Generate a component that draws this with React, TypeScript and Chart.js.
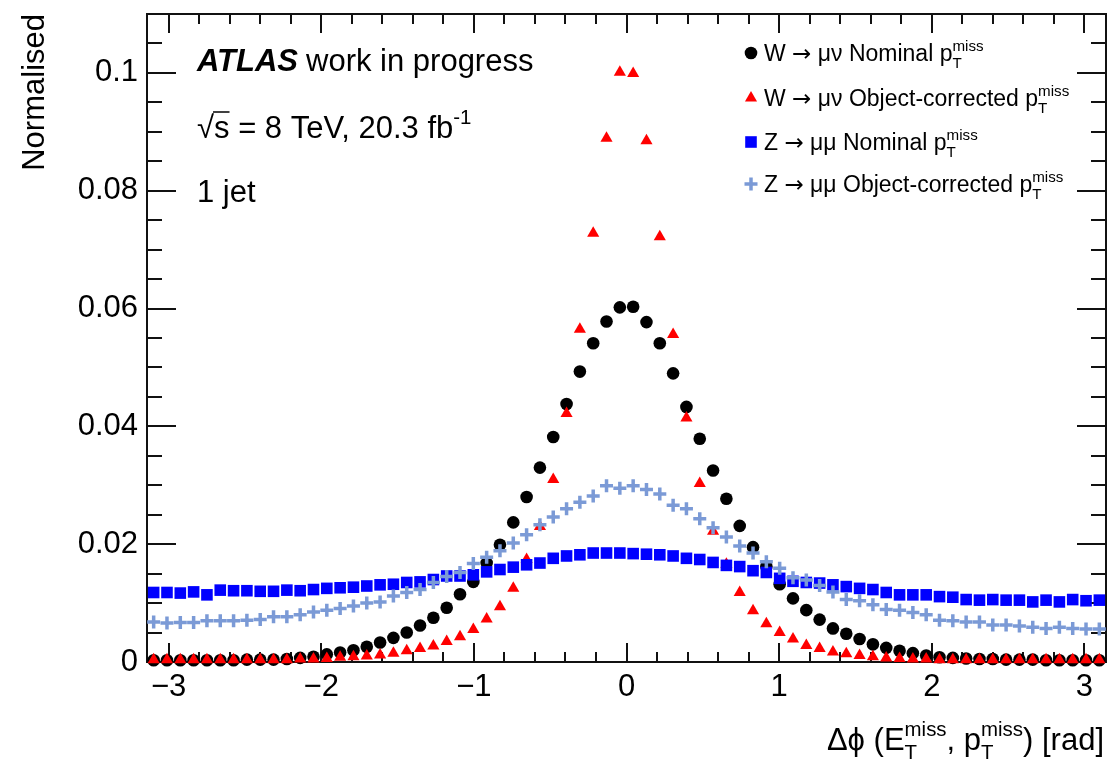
import React, { useEffect, useRef } from 'react';
import { Chart, registerables } from 'chart.js';

Chart.register(...registerables);

// ---------- data ----------
const N_BINS = 72;
const PHI_MIN = -Math.PI;
const PHI_MAX = Math.PI;
const BIN_WIDTH = (PHI_MAX - PHI_MIN) / N_BINS;
const BIN_CENTERS = Array.from({ length: N_BINS }, (_, i) => PHI_MIN + (i + 0.5) * BIN_WIDTH);

const W_NOMINAL = [
  0.0003, 0.0003, 0.0003, 0.0003, 0.0003, 0.0003, 0.0003, 0.0004, 0.0004, 0.0004,
  0.0005, 0.0007, 0.0009, 0.0013, 0.0016, 0.002, 0.0026, 0.0033, 0.0041, 0.005,
  0.0062, 0.0075, 0.0092, 0.0115, 0.0136, 0.0168, 0.0199, 0.0237, 0.028, 0.033,
  0.0382, 0.0438, 0.0493, 0.0541, 0.0578, 0.0602,
  0.0603, 0.0577, 0.0541, 0.049, 0.0433, 0.0379, 0.0325, 0.0277, 0.0231, 0.0195,
  0.0162, 0.0132, 0.0108, 0.0088, 0.0072, 0.0057, 0.0048, 0.0039, 0.003, 0.0024,
  0.0019, 0.0015, 0.0011, 0.0008, 0.0007, 0.0006, 0.0005, 0.0005, 0.0004, 0.0004,
  0.0004, 0.0003, 0.0003, 0.0003, 0.0003, 0.0003,
];

const W_CORRECTED = [
  0.0004, 0.0004, 0.0004, 0.0004, 0.0004, 0.0004, 0.0004, 0.0004, 0.0004, 0.0004,
  0.0004, 0.0005, 0.0005, 0.0006, 0.0008, 0.0009, 0.001, 0.0012, 0.0015, 0.0019,
  0.0023, 0.0027, 0.0035, 0.0043, 0.0055, 0.0073, 0.0094, 0.0125, 0.0174, 0.023,
  0.031, 0.0422, 0.0565, 0.0728, 0.0889, 0.1001,
  0.0999, 0.0885, 0.0722, 0.0556, 0.0414, 0.0303, 0.0222, 0.0166, 0.0118, 0.0087,
  0.0065, 0.005, 0.0039, 0.0028, 0.0023, 0.0017, 0.0014, 0.0011, 0.0009, 0.0007,
  0.0006, 0.0005, 0.0005, 0.0004, 0.0004, 0.0004, 0.0004, 0.0004, 0.0004, 0.0004,
  0.0004, 0.0004, 0.0004, 0.0004, 0.0004, 0.0004,
];

const Z_NOMINAL = [
  0.0118, 0.0118, 0.0117, 0.0119, 0.0114, 0.0122, 0.0121, 0.0121, 0.012, 0.012,
  0.0122, 0.0121, 0.0123, 0.0125, 0.0126, 0.0127, 0.0129, 0.0131, 0.0132, 0.0135,
  0.0136, 0.014, 0.0146, 0.0146, 0.0148, 0.0153, 0.0157, 0.0161, 0.0165, 0.0168,
  0.0176, 0.018, 0.0182, 0.0185, 0.0185, 0.0185,
  0.0184, 0.0183, 0.0182, 0.018, 0.0176, 0.0174, 0.0169, 0.0164, 0.0162, 0.0155,
  0.0152, 0.0142, 0.0137, 0.0135, 0.0134, 0.0131, 0.0128, 0.0125, 0.0123, 0.0118,
  0.0114, 0.0114, 0.0114, 0.0111, 0.011, 0.0106, 0.0105, 0.0106, 0.0105, 0.0105,
  0.0102, 0.0105, 0.0102, 0.0106, 0.0104, 0.0105,
];

const Z_CORRECTED = [
  0.0068, 0.0066, 0.0067, 0.0067, 0.007, 0.007, 0.007, 0.0071, 0.0072, 0.0077,
  0.0077, 0.008, 0.0085, 0.0088, 0.0091, 0.0095, 0.01, 0.0102, 0.0112, 0.0118,
  0.0123, 0.0135, 0.0145, 0.0152, 0.0167, 0.0178, 0.0189, 0.0202, 0.0216, 0.0233,
  0.0246, 0.026, 0.0271, 0.0282, 0.0299, 0.0295,
  0.0299, 0.0293, 0.0285, 0.0266, 0.026, 0.0243, 0.0228, 0.0212, 0.0197, 0.0185,
  0.017, 0.0159, 0.0143, 0.0139, 0.013, 0.0119, 0.0106, 0.0104, 0.0097, 0.0089,
  0.0088, 0.0084, 0.008, 0.0071, 0.007, 0.0068, 0.0068, 0.0063, 0.0063, 0.0061,
  0.0059, 0.0057, 0.0059, 0.0057, 0.0056, 0.0056,
];

const LEGEND_BOSON = ['W', 'W', 'Z', 'Z'];
const LEGEND_DECAY = ['\u03bc\u03bd', '\u03bc\u03bd', '\u03bc\u03bc', '\u03bc\u03bc'];
const LEGEND_KIND = ['Nominal', 'Object-corrected', 'Nominal', 'Object-corrected'];

const Y_MAX = 0.11;
const X_MAJOR_STEP = 1;
const X_MINOR_STEP = 0.2;
const Y_MAJOR_STEP = 0.02;
const Y_MINOR_STEP = 0.005;

// ---------- styles ----------
const FONT = "'Liberation Sans', Arial, Helvetica, sans-serif";
const ARROW_FONT = "'DejaVu Sans', sans-serif";
const BASE = 31;
const LEG = 23;
const BLACK = '#000000';
const RED = '#ff0000';
const BLUE = '#0000ff';
const LIGHT_BLUE = '#7b9ad6';
const MARKERS = [
  { style: 'circle', color: BLACK, radius: 6.3 },
  { style: 'triangle', color: RED, radius: 7 },
  { style: 'rect', color: BLUE, radius: 8.2 },
  { style: 'cross', color: LIGHT_BLUE, radius: 6.5 },
];

type Seg = { t?: string; sup?: string; sub?: string; font?: string };
const SCRIPT = 0.66;

function segWidth(ctx: CanvasRenderingContext2D, segs: Seg[], size: number) {
  let w = 0;
  for (const s of segs) {
    if (s.t !== undefined) {
      ctx.font = s.font || `${size}px ${FONT}`;
      w += ctx.measureText(s.t).width;
    } else {
      ctx.font = `${size * SCRIPT}px ${FONT}`;
      w += Math.max(ctx.measureText(s.sup || '').width, ctx.measureText(s.sub || '').width);
    }
  }
  return w;
}

function drawRich(ctx: CanvasRenderingContext2D, segs: Seg[], x: number, y: number, size: number, align: 'left' | 'right' = 'left') {
  let cx = align === 'right' ? x - segWidth(ctx, segs, size) : x;
  ctx.textAlign = 'left';
  ctx.textBaseline = 'alphabetic';
  for (const s of segs) {
    if (s.t !== undefined) {
      ctx.font = s.font || `${size}px ${FONT}`;
      ctx.fillText(s.t, cx, y);
      cx += ctx.measureText(s.t).width;
    } else {
      ctx.font = `${size * SCRIPT}px ${FONT}`;
      if (s.sup) ctx.fillText(s.sup, cx, y - size * 0.45);
      if (s.sub) ctx.fillText(s.sub, cx, y + size * 0.3);
      cx += Math.max(ctx.measureText(s.sup || '').width, ctx.measureText(s.sub || '').width);
    }
  }
  return cx;
}

function drawMarker(ctx: CanvasRenderingContext2D, style: string, color: string, x: number, y: number, r: number) {
  ctx.save();
  ctx.fillStyle = color;
  ctx.strokeStyle = color;
  ctx.beginPath();
  if (style === 'circle') {
    ctx.arc(x, y, r, 0, Math.PI * 2);
    ctx.fill();
  } else if (style === 'triangle') {
    ctx.moveTo(x, y - r);
    ctx.lineTo(x + r * 0.866, y + r * 0.5);
    ctx.lineTo(x - r * 0.866, y + r * 0.5);
    ctx.closePath();
    ctx.fill();
  } else if (style === 'rect') {
    const h = r * Math.SQRT1_2;
    ctx.rect(x - h, y - h, 2 * h, 2 * h);
    ctx.fill();
  } else {
    ctx.lineWidth = 3.5;
    ctx.moveTo(x - r, y);
    ctx.lineTo(x + r, y);
    ctx.moveTo(x, y - r);
    ctx.lineTo(x, y + r);
    ctx.stroke();
  }
  ctx.restore();
}

function stepValues(min: number, max: number, step: number) {
  const out: number[] = [];
  const start = Math.ceil(min / step - 1e-9);
  const end = Math.floor(max / step + 1e-9);
  for (let k = start; k <= end; k++) out.push(k * step);
  return out;
}

const overlayPlugin = {
  id: 'atlasOverlay',
  beforeDatasetsDraw(chart: any) {
    const { ctx, chartArea: a, scales } = chart;
    const xs = scales.x;
    const ys = scales.y;
    ctx.save();
    ctx.strokeStyle = '#111';
    ctx.lineWidth = 2;
    ctx.beginPath();
    for (const v of stepValues(xs.min, xs.max, X_MINOR_STEP)) {
      const major = Math.abs(v / X_MAJOR_STEP - Math.round(v / X_MAJOR_STEP)) < 1e-6;
      const len = major ? 19 : 10;
      const px = Math.round(xs.getPixelForValue(v));
      ctx.moveTo(px, a.bottom);
      ctx.lineTo(px, a.bottom - len);
      ctx.moveTo(px, a.top);
      ctx.lineTo(px, a.top + len);
    }
    for (const v of stepValues(ys.min, ys.max, Y_MINOR_STEP)) {
      const major = Math.abs(v / Y_MAJOR_STEP - Math.round(v / Y_MAJOR_STEP)) < 1e-6;
      const len = major ? 29 : 15;
      const py = Math.round(ys.getPixelForValue(v));
      ctx.moveTo(a.left, py);
      ctx.lineTo(a.left + len, py);
      ctx.moveTo(a.right, py);
      ctx.lineTo(a.right - len, py);
    }
    ctx.stroke();
    ctx.strokeRect(a.left, a.top, a.right - a.left, a.bottom - a.top);
    ctx.restore();
  },
  afterDraw(chart: any) {
    const { ctx, chartArea: a } = chart;
    ctx.save();
    ctx.fillStyle = '#000';

    const tx = a.left + 50;
    ctx.textAlign = 'left';
    ctx.textBaseline = 'alphabetic';
    ctx.font = `italic bold ${BASE}px ${FONT}`;
    ctx.fillText('ATLAS', tx, 71);
    const wAtlas = ctx.measureText('ATLAS').width;
    ctx.font = `${BASE}px ${FONT}`;
    ctx.fillText('work in progress', tx + wAtlas + 8, 71);

    ctx.font = `${BASE}px ${FONT}`;
    const wRoot = ctx.measureText('\u221a').width;
    const wS = ctx.measureText('s').width;
    drawRich(ctx, [{ t: '\u221as = 8 TeV, 20.3 fb' }, { sup: '-1' }], tx, 138, BASE);
    ctx.strokeStyle = '#000';
    ctx.lineWidth = 1.5;
    ctx.beginPath();
    ctx.moveTo(tx + wRoot - 1, 138 - 26);
    ctx.lineTo(tx + wRoot + wS, 138 - 26);
    ctx.stroke();

    ctx.font = `${BASE}px ${FONT}`;
    ctx.fillText('1 jet', tx, 202);

    const rows = [53, 98, 142, 184];
    LEGEND_BOSON.forEach((boson, i) => {
      const m = MARKERS[i];
      drawMarker(ctx, m.style, m.color, 751, rows[i], m.radius);
      ctx.fillStyle = '#000';
      drawRich(
        ctx,
        [
          { t: boson + ' ' },
          { t: '\u2192', font: `${LEG}px ${ARROW_FONT}` },
          { t: ' ' + LEGEND_DECAY[i] + ' ' + LEGEND_KIND[i] + ' p' },
          { sup: 'miss', sub: 'T' },
        ],
        764,
        rows[i] + 8,
        LEG
      );
    });

    drawRich(
      ctx,
      [{ t: '\u0394\u03d5 (E' }, { sup: 'miss', sub: 'T' }, { t: ', p' }, { sup: 'miss', sub: 'T' }, { t: ') [rad]' }],
      a.right - 2,
      750,
      BASE,
      'right'
    );
    ctx.restore();
  },
};

function fmtX(v: number) {
  const r = Math.round(v * 1000) / 1000;
  return r < 0 ? '\u2212' + Math.abs(r) : String(r);
}
function fmtY(v: number) {
  return String(Math.round(v * 10000) / 10000);
}

export default function App() {
  const ref = useRef<HTMLCanvasElement | null>(null);

  useEffect(() => {
    document.body.style.margin = '0';
    const canvas = ref.current;
    if (!canvas) return;
    const mk = (data: number[]) => BIN_CENTERS.map((x, i) => ({ x, y: data[i] }));
    const tickFont = { family: FONT, size: BASE };
    const chart = new Chart(canvas, {
      type: 'scatter',
      data: {
        datasets: [
          {
            label: 'W nominal',
            data: mk(W_NOMINAL),
            pointStyle: 'circle',
            pointRadius: MARKERS[0].radius,
            backgroundColor: BLACK,
            borderColor: BLACK,
            borderWidth: 0,
            order: 4,
            clip: false,
          },
          {
            label: 'W object-corrected',
            data: mk(W_CORRECTED),
            pointStyle: 'triangle',
            pointRadius: MARKERS[1].radius,
            backgroundColor: RED,
            borderColor: RED,
            borderWidth: 0,
            order: 3,
            clip: false,
          },
          {
            label: 'Z nominal',
            data: mk(Z_NOMINAL),
            pointStyle: 'rect',
            pointRadius: MARKERS[2].radius,
            backgroundColor: BLUE,
            borderColor: BLUE,
            borderWidth: 0,
            order: 2,
            clip: false,
          },
          {
            label: 'Z object-corrected',
            data: mk(Z_CORRECTED),
            pointStyle: 'cross',
            pointRadius: MARKERS[3].radius,
            backgroundColor: LIGHT_BLUE,
            borderColor: LIGHT_BLUE,
            borderWidth: 3.5,
            order: 1,
            clip: false,
          },
        ] as any,
      },
      options: {
        responsive: false,
        animation: false,
        devicePixelRatio: 1,
        events: [],
        layout: { padding: { top: 14, right: 13, left: 0, bottom: 0 } },
        plugins: { legend: { display: false }, tooltip: { enabled: false } },
        scales: {
          x: {
            type: 'linear',
            min: PHI_MIN,
            max: PHI_MAX,
            afterFit: (s: any) => {
              s.height = 101;
              s.paddingLeft = 0;
              s.paddingRight = 0;
              s.paddingTop = 0;
              s.paddingBottom = 0;
            },
            grid: { display: false, drawTicks: false },
            border: { display: false },
            ticks: {
              stepSize: X_MAJOR_STEP,
              includeBounds: false,
              padding: 7,
              maxRotation: 0,
              autoSkip: false,
              font: tickFont,
              color: '#000',
              callback: (v: any) => fmtX(Number(v)),
            },
          },
          y: {
            type: 'linear',
            min: 0,
            max: Y_MAX,
            afterFit: (s: any) => {
              s.width = 147;
              s.paddingLeft = 0;
              s.paddingRight = 0;
              s.paddingTop = 0;
              s.paddingBottom = 0;
            },
            grid: { display: false, drawTicks: false },
            border: { display: false },
            title: {
              display: true,
              text: 'Normalised',
              align: 'end',
              color: '#000',
              font: { family: FONT, size: BASE },
              padding: { top: 17, bottom: 0 },
            },
            ticks: {
              stepSize: Y_MAJOR_STEP,
              includeBounds: false,
              padding: 9,
              autoSkip: false,
              font: tickFont,
              color: '#000',
              callback: (v: any) => fmtY(Number(v)),
            },
          },
        },
      } as any,
      plugins: [overlayPlugin],
    });
    return () => chart.destroy();
  }, []);

  return (
    <div style={{ width: 1119, height: 763, background: '#fff' }}>
      <canvas ref={ref} width={1119} height={763} style={{ display: 'block', width: 1119, height: 763 }} />
    </div>
  );
}
